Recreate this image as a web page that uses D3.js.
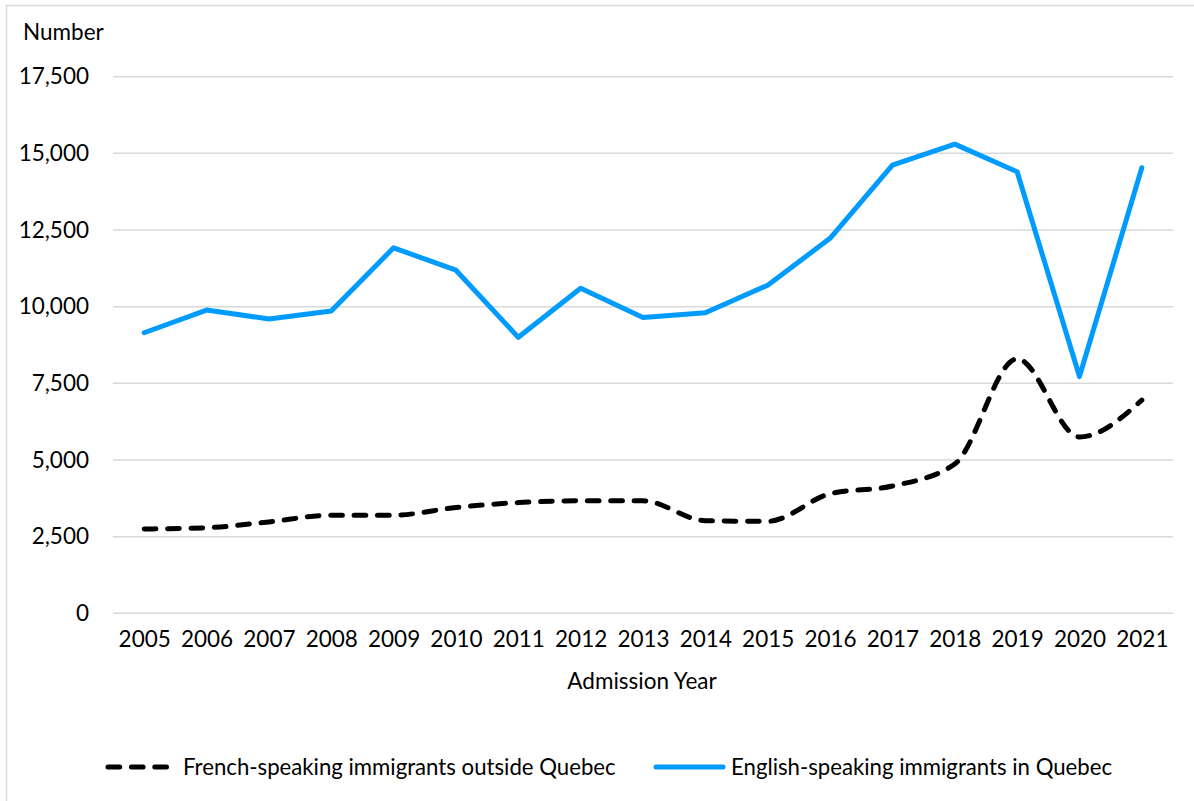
<!DOCTYPE html>
<html>
<head>
<meta charset="utf-8">
<script src="https://cdn.jsdelivr.net/npm/d3@7"></script>
<style>
  html, body { margin: 0; padding: 0; background: #fff; }
  svg { display: block; font-family: Lato, "Open Sans", sans-serif; }
</style>
</head>
<body>
<svg id="chart" width="1194" height="801"></svg>
<script>
// Admission years
const years = ["2005","2006","2007","2008","2009","2010","2011","2012","2013",
               "2014","2015","2016","2017","2018","2019","2020","2021"];

// French-speaking immigrants admitted outside Quebec
const frenchOutsideQuebec = [2750, 2790, 2980, 3200, 3200, 3450, 3610, 3670, 3670,
                             3020, 3000, 3900, 4150, 4870, 8300, 5750, 6950];

// English-speaking immigrants admitted in Quebec
const englishInQuebec = [9150, 9890, 9600, 9860, 11920, 11190, 9000, 10600, 9650,
                         9800, 10700, 12230, 14620, 15300, 14400, 7720, 14530];

const yTicks = [0, 2500, 5000, 7500, 10000, 12500, 15000, 17500];

const seriesNames = ["French-speaking immigrants outside Quebec",
                     "English-speaking immigrants in Quebec"];

const svg = d3.select("#chart");
const plot = { left: 113, right: 1173, top: 76.7, bottom: 613.3 };
const fontFamily = "Lato, 'Open Sans', sans-serif";
const labelSize = 22.5;

// Outer frame
svg.append("rect")
  .attr("x", 6.5).attr("y", 5.5)
  .attr("width", 1200).attr("height", 820)
  .attr("fill", "none").attr("stroke", "#d9d9d9").attr("stroke-width", 1.5);

const x = d3.scalePoint().domain(years).range([plot.left, plot.right]).padding(0.5);
const y = d3.scaleLinear().domain([0, 17500]).range([plot.bottom, plot.top]);

// Horizontal gridlines
svg.append("g")
  .selectAll("line")
  .data(yTicks)
  .join("line")
  .attr("x1", plot.left).attr("x2", plot.right)
  .attr("y1", d => y(d)).attr("y2", d => y(d))
  .attr("stroke", "#d9d9d9").attr("stroke-width", 1.5);

// Y axis labels
const yAxis = d3.axisLeft(y).tickValues(yTicks).tickSize(0).tickPadding(0)
  .tickFormat(d3.format(","));
const gy = svg.append("g").attr("transform", `translate(${plot.left - 24},0)`).call(yAxis);
gy.select(".domain").remove();
gy.selectAll("text").attr("font-size", labelSize).attr("fill", "#000")
  .attr("font-family", fontFamily);

// X axis labels
const xAxis = d3.axisBottom(x).tickSize(0).tickPadding(0);
const gx = svg.append("g").attr("transform", `translate(0,${plot.bottom + 18})`).call(xAxis);
gx.select(".domain").remove();
gx.selectAll("text").attr("font-size", 22.5).attr("fill", "#000")
  .attr("font-family", fontFamily);

// Axis titles
svg.append("text").attr("x", 23).attr("y", 40)
  .attr("font-size", labelSize).attr("fill", "#000").text("Number");
svg.append("text").attr("x", 642).attr("y", 689)
  .attr("text-anchor", "middle").attr("font-size", labelSize).attr("fill", "#000")
  .text("Admission Year");

// Series lines
const blue = "#009bff";
const dash = "11.7,11.7";

const smoothLine = d3.line()
  .x((d, i) => x(years[i])).y(d => y(d))
  .curve(d3.curveMonotoneX);
const straightLine = d3.line()
  .x((d, i) => x(years[i])).y(d => y(d));

svg.append("path")
  .attr("d", smoothLine(frenchOutsideQuebec))
  .attr("fill", "none").attr("stroke", "#000").attr("stroke-width", 5)
  .attr("stroke-dasharray", dash).attr("stroke-linecap", "round")
  .attr("stroke-linejoin", "round");

svg.append("path")
  .attr("d", straightLine(englishInQuebec))
  .attr("fill", "none").attr("stroke", blue).attr("stroke-width", 5)
  .attr("stroke-linecap", "round").attr("stroke-linejoin", "round");

// Legend
const legend = [
  { name: seriesNames[0], color: "#000", dashed: true, x0: 108, x1: 168, tx: 183 },
  { name: seriesNames[1], color: blue, dashed: false, x0: 656, x1: 723, tx: 731 }
];
const ly = 767;
const lg = svg.append("g");
legend.forEach(l => {
  lg.append("line")
    .attr("x1", l.x0).attr("x2", l.x1).attr("y1", ly).attr("y2", ly)
    .attr("stroke", l.color).attr("stroke-width", 5).attr("stroke-linecap", "round")
    .attr("stroke-dasharray", l.dashed ? dash : null);
  lg.append("text").attr("x", l.tx).attr("y", ly).attr("dy", "0.35em")
    .attr("font-size", 22.2).attr("fill", "#000").text(l.name);
});
</script>
</body>
</html>
